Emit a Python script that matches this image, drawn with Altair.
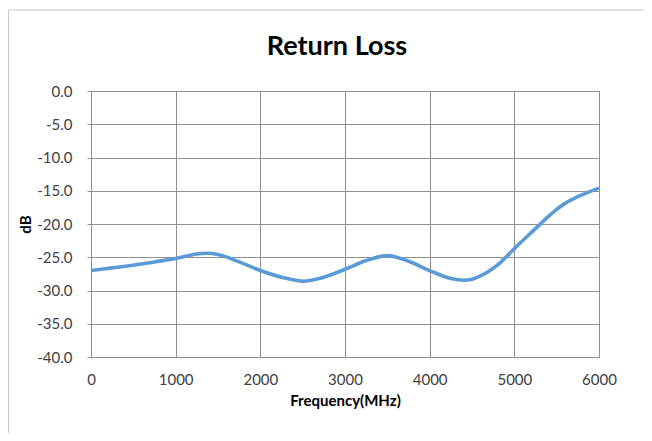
import altair as alt
import pandas as pd

freq = [0, 250, 500, 750, 1000, 1250, 1375, 1500, 1750, 2000, 2250, 2500, 2750,
        3000, 3250, 3500, 3750, 4000, 4250, 4400, 4500, 4600, 4700, 4800, 4900,
        5000, 5250, 5400, 5500, 5600, 5750, 6000]
db = [-27.0, -26.6, -26.2, -25.7, -25.2, -24.5, -24.4, -24.6, -25.7, -27.0,
      -28.0, -28.6, -28.0, -26.8, -25.5, -24.75, -25.6, -27.0, -28.2, -28.45,
      -28.3, -27.8, -27.1, -26.2, -25.0, -23.7, -20.7, -18.9, -17.8, -16.9,
      -15.9, -14.6]

x_ticks = [0, 1000, 2000, 3000, 4000, 5000, 6000]
y_ticks = [0, -5, -10, -15, -20, -25, -30, -35, -40]
title_text = "Return Loss"

df = pd.DataFrame({"freq": freq, "db": db})

FONT = "Lato"
GRID = "#8f8f8f"
BORDER = "#c8c8c8"
dummy = pd.DataFrame({"a": [0]})

border_top = alt.Chart(dummy).mark_rule(color=BORDER, strokeWidth=1, clip=False).encode(
    x=alt.value(-82.5), x2=alt.value(600), y=alt.value(-81)
)
border_left = alt.Chart(dummy).mark_rule(color=BORDER, strokeWidth=1, clip=False).encode(
    x=alt.value(-82.5), y=alt.value(-81), y2=alt.value(360)
)

title = alt.Chart(dummy).mark_text(
    text=title_text, font=FONT, fontSize=27, fontWeight="bold", color="#000000",
    align="center", baseline="alphabetic", clip=False
).encode(x=alt.value(246), y=alt.value(-36))

line = alt.Chart(df).mark_line(
    color="#5B9BD5", strokeWidth=3.6, interpolate="monotone"
).encode(
    x=alt.X("freq:Q", scale=alt.Scale(domain=[0, 6000], nice=False),
            axis=alt.Axis(values=x_ticks, title="Frequency(MHz)", format="d",
                          grid=True, gridColor=GRID, gridOpacity=1,
                          domain=False, ticks=False, labelPadding=15,
                          labelFlush=False,
                          labelFont=FONT, labelFontSize=15, labelColor="#404040",
                          titleFont=FONT, titleFontSize=15, titleFontWeight="bold",
                          titleColor="#000000", titlePadding=6)),
    y=alt.Y("db:Q", scale=alt.Scale(domain=[-40, 0], nice=False),
            axis=alt.Axis(values=y_ticks, title="dB",
                          labelExpr="datum.value < 0 ? '-' + format(-datum.value, '.1f') : format(datum.value, '.1f')",
                          grid=True, gridColor=GRID, gridOpacity=1, labelFlush=False,
                          domain=True, domainColor=GRID, ticks=True, tickSize=4,
                          tickColor=GRID, labelPadding=15,
                          labelFont=FONT, labelFontSize=15, labelColor="#404040",
                          titleFont=FONT, titleFontSize=15, titleFontWeight="bold",
                          titleColor="#000000", titleX=-66, titleBaseline="middle")),
)

chart = alt.layer(border_top, border_left, title, line).properties(
    width=508, height=266,
    autosize=alt.AutoSizeParams(type="none"),
    padding={"left": 83, "top": 83, "right": 45, "bottom": 76},
).configure_view(stroke=GRID, strokeWidth=1).configure(background="white")

chart.save("out.html", embed_options={"renderer": "svg", "actions": False})
